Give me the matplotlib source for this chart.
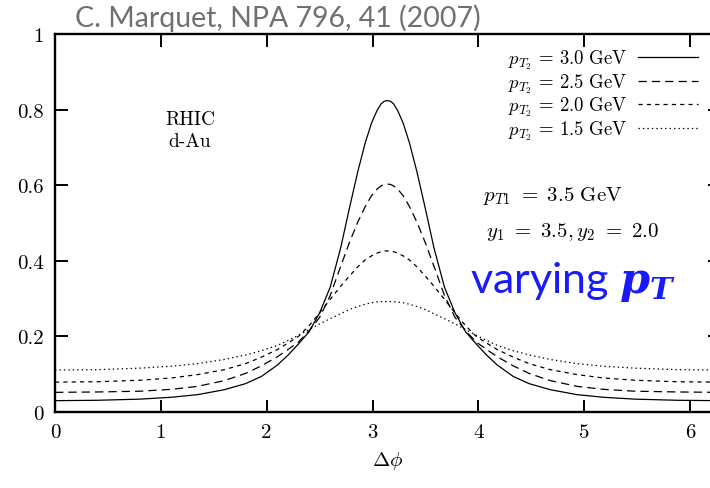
import matplotlib
matplotlib.use("Agg")
import matplotlib.pyplot as plt

plt.rcParams["mathtext.fontset"] = "cm"
plt.rcParams["mathtext.bf"] = "DejaVu Serif:italic:bold"
plt.rcParams["lines.scale_dashes"] = False

# delta phi sample points
dphi = [0.00, 0.40, 0.80, 1.10, 1.35, 1.60, 1.80, 1.95, 2.10, 2.20, 2.30,
        2.40, 2.50, 2.60, 2.70, 2.78, 2.86, 2.93, 2.99, 3.04, 3.08, 3.11,
        3.14,
        3.17, 3.20, 3.24, 3.29, 3.35, 3.42, 3.50, 3.58, 3.68, 3.78, 3.88,
        3.98, 4.08, 4.18, 4.33, 4.48, 4.68, 4.93, 5.18, 5.48, 5.88, 6.28]

pt2_30 = [0.030, 0.031, 0.034, 0.039, 0.046, 0.059, 0.075, 0.094, 0.124,
          0.150, 0.180, 0.212, 0.262, 0.330, 0.435, 0.537, 0.635, 0.711,
          0.764, 0.796, 0.815, 0.822, 0.824,
          0.822, 0.815, 0.796, 0.764, 0.711, 0.635, 0.537, 0.435, 0.330,
          0.262, 0.212, 0.180, 0.150, 0.124, 0.094, 0.075, 0.059, 0.046,
          0.039, 0.034, 0.031, 0.030]
pt2_25 = [0.052, 0.053, 0.055, 0.060, 0.068, 0.083, 0.102, 0.122, 0.146,
          0.165, 0.185, 0.215, 0.250, 0.308, 0.386, 0.447, 0.502, 0.543,
          0.572, 0.589, 0.598, 0.602, 0.603,
          0.602, 0.598, 0.589, 0.572, 0.543, 0.502, 0.447, 0.386, 0.308,
          0.250, 0.215, 0.185, 0.165, 0.146, 0.122, 0.102, 0.083, 0.068,
          0.060, 0.055, 0.053, 0.052]
pt2_20 = [0.079, 0.080, 0.084, 0.090, 0.099, 0.112, 0.128, 0.145, 0.165,
          0.182, 0.200, 0.228, 0.262, 0.298, 0.333, 0.359, 0.384, 0.402,
          0.413, 0.420, 0.424, 0.426, 0.426,
          0.426, 0.424, 0.420, 0.413, 0.402, 0.384, 0.359, 0.333, 0.298,
          0.262, 0.228, 0.200, 0.182, 0.165, 0.145, 0.128, 0.112, 0.099,
          0.090, 0.084, 0.080, 0.079]
pt2_15 = [0.111, 0.112, 0.116, 0.121, 0.128, 0.139, 0.151, 0.162, 0.176,
          0.189, 0.203, 0.218, 0.233, 0.247, 0.260, 0.271, 0.279, 0.285,
          0.289, 0.291, 0.292, 0.292, 0.292,
          0.292, 0.292, 0.291, 0.289, 0.285, 0.279, 0.271, 0.260, 0.247,
          0.233, 0.218, 0.203, 0.189, 0.176, 0.162, 0.151, 0.139, 0.128,
          0.121, 0.116, 0.112, 0.111]

series = [
    (pt2_30, "3.0", None),
    (pt2_25, "2.5", (6.0, 3.6)),
    (pt2_20, "2.0", (3.0, 3.0)),
    (pt2_15, "1.5", (1.0, 2.2)),
]

xticks = [0, 1, 2, 3, 4, 5, 6]
yticks = [0, 0.2, 0.4, 0.6, 0.8, 1]
ytick_labels = ["0", "0.2", "0.4", "0.6", "0.8", "1"]

fig = plt.figure(figsize=(7.1, 4.89), dpi=100)
ax = fig.add_axes([55 / 710, 76 / 489, 665 / 710, 378 / 489])

for values, label, dashes in series:
    line, = ax.plot(dphi, values, color="black", lw=0.9,
                    label=r"$p_{T_2}\,{=}\,%s\ \mathrm{GeV}$" % label)
    if dashes is not None:
        line.set_dashes(dashes)

ax.set_xlim(0, 6.2832)
ax.set_ylim(0, 1)
ax.set_xticks(xticks)
ax.set_xticklabels([str(t) for t in xticks], fontfamily="cmr10", fontsize=15)
ax.set_yticks(yticks)
ax.set_yticklabels(ytick_labels, fontfamily="cmr10", fontsize=15)
ax.tick_params(direction="in", length=9, width=1.4, top=True, right=True,
               pad=8)
for spine in ax.spines.values():
    spine.set_linewidth(1.7)

ax.set_xlabel(r"$\Delta\phi$", fontsize=15, labelpad=6)

leg = ax.legend(loc="upper right", bbox_to_anchor=(698 / 710, 440 / 489),
                bbox_transform=fig.transFigure, frameon=False, markerfirst=False,
                fontsize=13.5, handlelength=3.2, handletextpad=0.6,
                labelspacing=0.0, borderpad=0, borderaxespad=0)

fig.text(190 / 710, 1 - 120 / 489, "RHIC", fontfamily="cmr10", fontsize=14,
         ha="center", va="center")
fig.text(190 / 710, 1 - 142 / 489, "d-Au", fontfamily="cmr10", fontsize=14,
         ha="center", va="center")

fig.text(483 / 710, 1 - 196 / 489, r"$p_{T1}\ =\ 3.5\ \mathrm{GeV}$",
         fontsize=15, ha="left", va="center")
fig.text(486 / 710, 1 - 232 / 489, r"$y_1\ =\ 3.5, y_2\ =\ 2.0$",
         fontsize=15, ha="left", va="center")
fig.text(470 / 710, 1 - 293 / 489, r"varying $\mathbf{p_T}$",
         fontfamily="Lato", fontsize=31, color="#1a1aff",
         math_fontfamily="custom", ha="left", va="baseline")

fig.text(75 / 710, 1 - 27 / 489, "C. Marquet, NPA 796, 41 (2007)",
         fontfamily="Lato", fontsize=20.5, color="#707070",
         ha="left", va="baseline")

fig.savefig("out.png", dpi=100)
